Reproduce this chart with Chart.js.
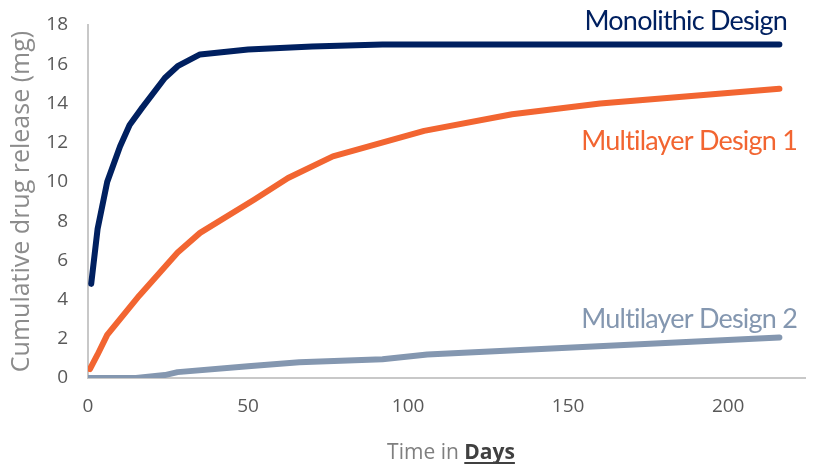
<!DOCTYPE html>
<html>
<head>
<meta charset="utf-8">
<script src="https://cdn.jsdelivr.net/npm/chart.js@4.4.1/dist/chart.umd.min.js"></script>
<style>
  html, body { margin: 0; padding: 0; background: #fff; }
  #wrap { width: 820px; height: 465px; }
</style>
</head>
<body>
<div id="wrap"><canvas id="chart" width="820" height="465"></canvas></div>
<script>
// ===== Datos =====
const monoDays = [1, 3, 6, 10, 13, 17, 24, 28, 35, 50, 70, 92, 130, 160, 216];
const monoRelease = [4.8, 7.6, 10.0, 11.8, 12.9, 13.8, 15.3, 15.9, 16.5, 16.75, 16.9, 17.0, 17.0, 17.0, 17.0];

const ml1Days = [0.6, 3, 6, 16, 28, 35, 52, 62.5, 76.5, 105, 132.5, 160, 216];
const ml1Release = [0.45, 1.2, 2.2, 4.2, 6.4, 7.4, 9.1, 10.2, 11.3, 12.6, 13.45, 14.0, 14.75];

const ml2Days = [0, 15, 24, 28, 50, 66, 92, 106, 216];
const ml2Release = [0, 0, 0.15, 0.3, 0.6, 0.8, 0.96, 1.2, 2.07];

const seriesNames = ['Monolithic Design', 'Multilayer Design 1', 'Multilayer Design 2'];
const seriesColors = ['#002060', '#F26531', '#8497B0'];

const xTicks = [0, 50, 100, 150, 200];
const yTicks = [0, 2, 4, 6, 8, 10, 12, 14, 16, 18];

function toPoints(xs, ys) {
    return xs.map((x, i) => ({ x: x, y: ys[i] }));
}

// Etiquetas de las series junto a las curvas
const seriesLabels = {
    id: 'seriesLabels',
    afterDraw(chart) {
        const ctx = chart.ctx;
        const rights = [787, 797, 797];
        const spots = [21, 141, 319];
        ctx.save();
        ctx.font = '27px Lato';
        ctx.letterSpacing = '-0.8px';
        ctx.textAlign = 'right';
        ctx.textBaseline = 'middle';
        seriesNames.forEach((name, i) => {
            ctx.fillStyle = seriesColors[i];
            ctx.fillText(name, rights[i], spots[i]);
        });
        ctx.restore();
    }
};

// Título del eje X con "Days" en negrita y subrayado
const xTitle = {
    id: 'xTitle',
    afterDraw(chart) {
        const ctx = chart.ctx;
        ctx.save();
        ctx.textBaseline = 'alphabetic';
        ctx.textAlign = 'left';
        const part1 = 'Time in ';
        const part2 = 'Days';
        ctx.font = '21px "Open Sans"';
        const w1 = ctx.measureText(part1).width;
        ctx.font = 'bold 21px "Open Sans"';
        const w2 = ctx.measureText(part2).width;
        const start = 451 - (w1 + w2) / 2;
        const base = 459;
        ctx.font = '21px "Open Sans"';
        ctx.fillStyle = '#7F7F7F';
        ctx.fillText(part1, start, base);
        ctx.font = 'bold 21px "Open Sans"';
        ctx.fillStyle = '#404040';
        ctx.fillText(part2, start + w1, base);
        ctx.fillRect(start + w1, base + 3, w2, 2);
        ctx.restore();
    }
};

const ctx = document.getElementById('chart').getContext('2d');
const chart = new Chart(ctx, {
    type: 'line',
    data: {
        datasets: [
            { label: seriesNames[0], data: toPoints(monoDays, monoRelease) },
            { label: seriesNames[1], data: toPoints(ml1Days, ml1Release) },
            { label: seriesNames[2], data: toPoints(ml2Days, ml2Release) }
        ].map((d, i) => Object.assign(d, {
            borderColor: seriesColors[i],
            backgroundColor: seriesColors[i],
            borderWidth: 6,
            borderCapStyle: 'round',
            borderJoinStyle: 'round',
            pointRadius: 0,
            tension: 0,
            fill: false
        }))
    },
    options: {
        responsive: false,
        animation: false,
        layout: { padding: { left: 0, right: 15, top: 25, bottom: 0 } },
        plugins: {
            legend: { display: false },
            tooltip: { enabled: false }
        },
        scales: {
            x: {
                type: 'linear',
                min: 0,
                max: 224,
                afterFit(scale) {
                    scale.height = 87;
                    scale.paddingLeft = 0;
                    scale.paddingRight = 0;
                },
                afterBuildTicks(scale) { scale.ticks = xTicks.map(v => ({ value: v })); },
                grid: { display: false, drawTicks: false },
                border: { display: true, color: '#C8C8C8', width: 2 },
                ticks: {
                    color: '#595959',
                    font: { family: 'Open Sans', size: 19 },
                    padding: 17
                }
            },
            y: {
                min: 0,
                max: 18,
                afterFit(scale) {
                    scale.width = 88;
                    scale.paddingTop = 0;
                    scale.paddingBottom = 0;
                },
                afterBuildTicks(scale) { scale.ticks = yTicks.map(v => ({ value: v })); },
                grid: { display: false, drawTicks: false },
                border: { display: true, color: '#C8C8C8', width: 2 },
                title: {
                    display: true,
                    text: 'Cumulative drug release (mg)',
                    color: '#8C8C8C',
                    font: { family: 'Open Sans', size: 25 },
                    padding: { top: 7, bottom: 0 }
                },
                ticks: {
                    color: '#595959',
                    font: { family: 'Open Sans', size: 19 },
                    padding: 20
                }
            }
        }
    },
    plugins: [seriesLabels, xTitle]
});
</script>
</body>
</html>
